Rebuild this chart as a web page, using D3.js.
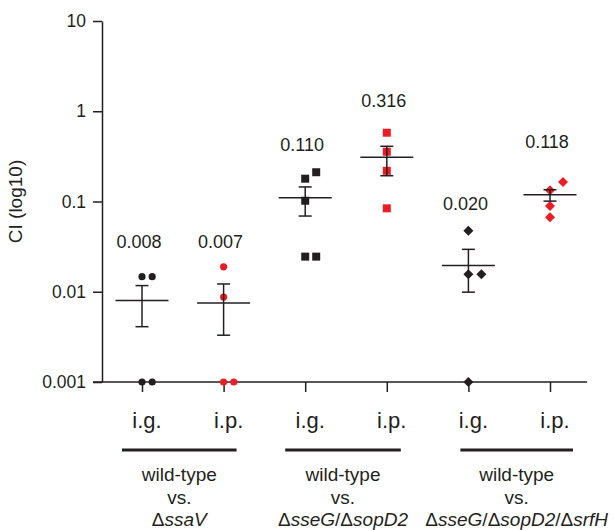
<!DOCTYPE html>
<html>
<head>
<meta charset="utf-8">
<script src="https://cdn.jsdelivr.net/npm/d3@7"></script>
<style>
  html, body { margin: 0; padding: 0; background: #fff; }
  svg { display: block; font-family: "Liberation Sans", Arial, Helvetica, sans-serif; }
</style>
</head>
<body>
<svg id="chart" width="614" height="530"></svg>
<script>
// ---- data ----
const categories = ["i.g.", "i.p.", "i.g.", "i.p.", "i.g.", "i.p."];
const groupLabels = [
  ["wild-type", "vs.", "ΔssaV"],
  ["wild-type", "vs.", "ΔsseG/ΔsopD2"],
  ["wild-type", "vs.", "ΔsseG/ΔsopD2/ΔsrfH"]
];
const yTicks = [0.001, 0.01, 0.1, 1, 10];
const yTickLabels = ["0.001", "0.01", "0.1", "1", "10"];

const ciGroup1IG = [0.001, 0.001, 0.0147, 0.0147];
const ciGroup1IP = [0.001, 0.001, 0.00875, 0.0189];
const ciGroup2IG = [0.0245, 0.0245, 0.102, 0.179, 0.211];
const ciGroup2IP = [0.084, 0.219, 0.356, 0.578];
const ciGroup3IG = [0.001, 0.0156, 0.0156, 0.0475];
const ciGroup3IP = [0.0668, 0.0892, 0.133, 0.164];

const meanValues = [0.008, 0.0075, 0.110, 0.31, 0.0195, 0.119];
const meanLabels = ["0.008", "0.007", "0.110", "0.316", "0.020", "0.118"];
const errHigh = [0.0117, 0.0122, 0.145, 0.409, 0.0295, 0.135];
const errLow = [0.0041, 0.0033, 0.069, 0.193, 0.0099, 0.101];

const shapes = ["circle", "circle", "square", "square", "diamond", "diamond"];

const series = [ciGroup1IG, ciGroup1IP, ciGroup2IG, ciGroup2IP, ciGroup3IG, ciGroup3IP];

// ---- layout ----
const black = "#231f20";
const red = "#ed1c24";
const colors = [black, red, black, red, black, red];

const svg = d3.select("#chart");
const ids = d3.range(categories.length);

const x = d3.scalePoint().domain(ids).range([142, 550]);
const y = d3.scaleLog().domain([0.001, 10]).range([382, 21]);
const axisX = 102;

// y axis
const yAxis = d3.axisLeft(y)
  .tickValues(yTicks)
  .tickFormat((d, i) => yTickLabels[i])
  .tickSize(9)
  .tickSizeOuter(0)
  .tickPadding(7);
const gy = svg.append("g").attr("transform", `translate(${axisX},0)`).call(yAxis);
gy.selectAll("path, line").attr("stroke", black).attr("stroke-width", 1.5);
gy.selectAll("text").attr("font-size", 17.5).attr("fill", black)
  .attr("font-family", "'Liberation Sans', Arial, sans-serif");

// x axis
const xAxis = d3.axisBottom(x).tickSize(10).tickFormat("").tickSizeOuter(0);
const gx = svg.append("g").attr("transform", `translate(0,${y(0.001)})`).call(xAxis);
gx.select(".domain").remove();
gx.selectAll("line").attr("stroke", black).attr("stroke-width", 1.5);
gx.append("line")
  .attr("x1", axisX - 9).attr("x2", x(ids[ids.length - 1]) + 37)
  .attr("y1", 0).attr("y2", 0)
  .attr("stroke", black).attr("stroke-width", 1.5);

// y label
svg.append("text")
  .attr("transform", `translate(22,${(y(0.001) + y(10)) / 2})rotate(-90)`)
  .attr("text-anchor", "middle")
  .attr("font-size", 19)
  .attr("fill", black)
  .text("CI (log10)");

// symbol sizes
const markerSize = { circle: 7.2, square: 8, diamond: 10 };

function symbolPath(shape) {
  if (shape === "circle") return d3.symbol(d3.symbolCircle, Math.PI * 3.6 * 3.6)();
  if (shape === "square") return d3.symbol(d3.symbolSquare, 64)();
  return "M0,-5L5,0L0,5L-5,0Z";
}

// points with simple dodge
ids.forEach(i => {
  const cx = x(i);
  const shape = shapes[i];
  const s = markerSize[shape];
  const placed = [];
  series[i].forEach(v => {
    const py = y(v);
    let slot = 0;
    while (placed.some(p => p.slot === slot && Math.abs(p.y - py) < s)) slot += 1;
    placed.push({ y: py, slot: slot, v: v });
  });
  svg.append("g").selectAll("path")
    .data(placed)
    .join("path")
    .attr("d", symbolPath(shape))
    .attr("transform", d => `translate(${cx + d.slot * (s + 3)},${d.y})`)
    .attr("fill", colors[i]);
});

// mean lines and error bars
const gm = svg.append("g").attr("stroke", black).attr("stroke-width", 1.5).attr("fill", "none");
ids.forEach(i => {
  const cx = x(i);
  gm.append("line").attr("x1", cx - 26.5).attr("x2", cx + 26.5)
    .attr("y1", y(meanValues[i])).attr("y2", y(meanValues[i]));
  gm.append("line").attr("x1", cx).attr("x2", cx)
    .attr("y1", y(errHigh[i])).attr("y2", y(errLow[i]));
  gm.append("line").attr("x1", cx - 6.5).attr("x2", cx + 6.5)
    .attr("y1", y(errHigh[i])).attr("y2", y(errHigh[i]));
  gm.append("line").attr("x1", cx - 6.5).attr("x2", cx + 6.5)
    .attr("y1", y(errLow[i])).attr("y2", y(errLow[i]));
});

// mean labels
const labelGap = [25, 15, 17, 22, 16, 29];
ids.forEach(i => {
  const top = Math.min(y(d3.max(series[i])) - markerSize[shapes[i]] / 2, y(errHigh[i]));
  svg.append("text")
    .attr("x", x(i) - 3)
    .attr("y", top - labelGap[i])
    .attr("text-anchor", "middle")
    .attr("font-size", 18)
    .attr("fill", black)
    .text(meanLabels[i]);
});

// category labels
svg.append("g").selectAll("text")
  .data(ids)
  .join("text")
  .attr("x", d => x(d) + 5)
  .attr("y", 428)
  .attr("text-anchor", "middle")
  .attr("font-size", 22)
  .attr("fill", black)
  .text(d => categories[d]);

// group underlines and labels
const padLeft = [20, 20, 8];
const padRight = [13, 14, 23];
groupLabels.forEach((lines, g) => {
  const x1 = x(2 * g) - padLeft[g];
  const x2 = x(2 * g + 1) + padRight[g];
  const cx = (x1 + x2) / 2;
  svg.append("line")
    .attr("x1", x1).attr("x2", x2)
    .attr("y1", 450).attr("y2", 450)
    .attr("stroke", black).attr("stroke-width", 3);
  lines.forEach((ln, k) => {
    const t = svg.append("text")
      .attr("x", cx)
      .attr("y", 481 + k * 22.7)
      .attr("text-anchor", "middle")
      .attr("font-size", 19)
      .attr("fill", black);
    if (k < 2) {
      t.text(ln);
    } else {
      ln.split(/(Δ|\/)/).filter(s => s.length).forEach(seg => {
        t.append("tspan")
          .attr("font-style", (seg === "Δ" || seg === "/") ? "normal" : "italic")
          .text(seg);
      });
    }
  });
});
</script>
</body>
</html>
